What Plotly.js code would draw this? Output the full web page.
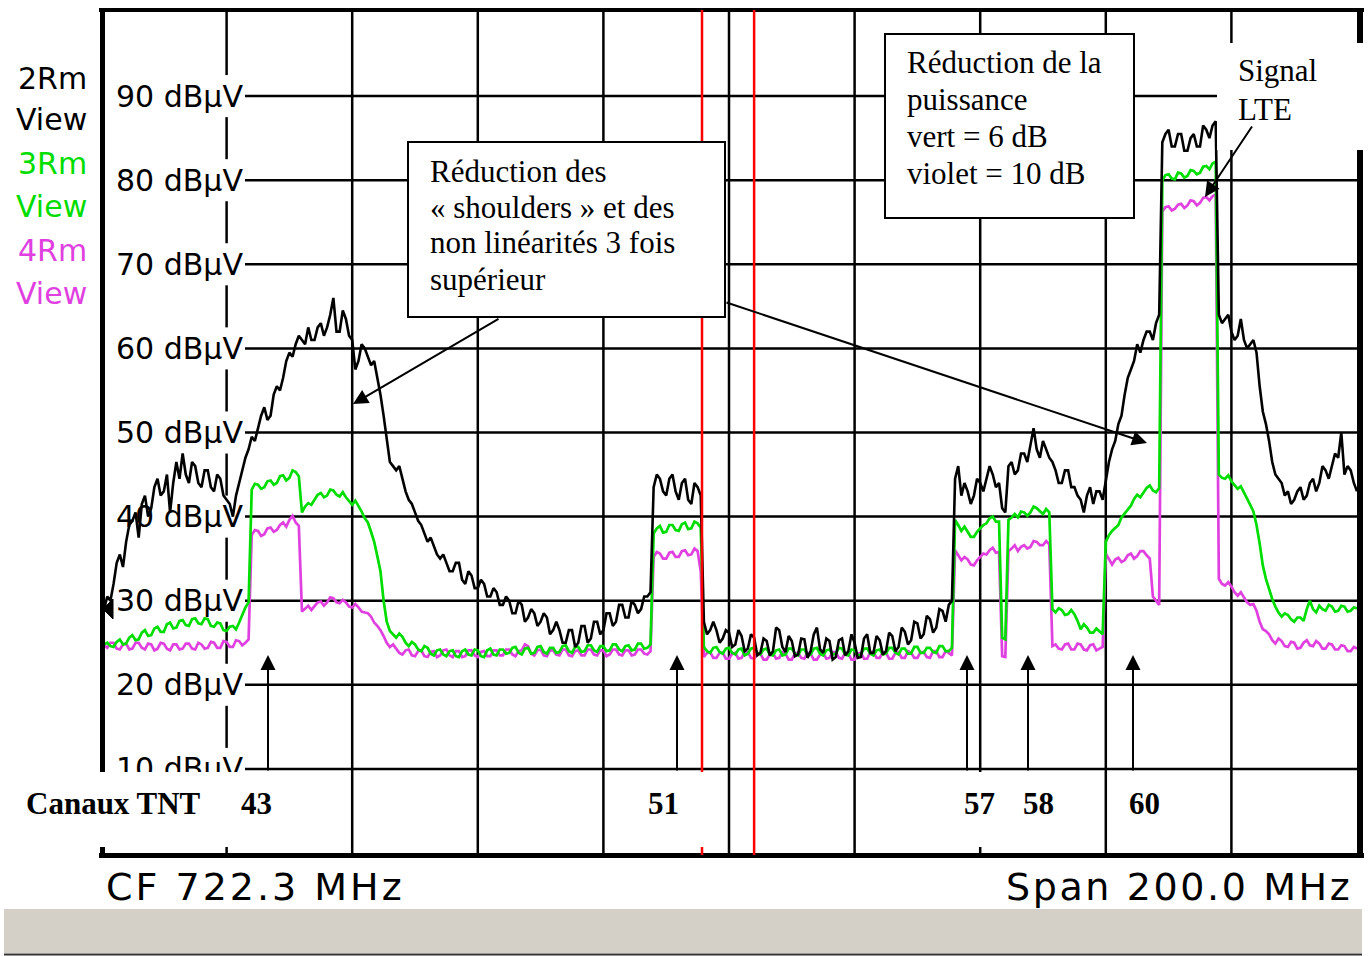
<!DOCTYPE html>
<html>
<head>
<meta charset="utf-8">
<script src="https://cdn.plot.ly/plotly-3.0.1.min.js"></script>
<style>
  html, body { margin: 0; padding: 0; background: #ffffff; }
  #chart { width: 1368px; height: 956px; }
</style>
</head>
<body>
<div id="chart"></div>
<script>
// ---------------- DATA ----------------
// Spectrum analyser sweep: CF 722.3 MHz, span 200 MHz, one sample every 0.5 MHz (401 points)
const freqStartMHz = 622.3;
const freqStepMHz = 0.5;

// 2Rm View (black) level, dBµV
const trace2Rm = [
  27,29, 30.5,30, 32,34.5, 35.5,34, 37,39, 39.5,40.5, 37.5,41.5, 42.5,40, 41,43.5, 44.5,42.5,
  43,45, 40.5,44, 46.5,44.5, 47.5,45, 44,46.5, 46,44, 43.5,45.5, 45.5,43.5, 43,45, 44.5,42.5,
  42,41.5, 40,42.5, 44,45.5, 47,48, 49.5,49, 50.5,52, 53,51.5, 52,54.5, 55.5,55, 56.5,58.5,
  59.5,59, 60.5,61.5, 61,60.5, 62.5,61, 61,62.5, 63,61.5, 62.5,64, 66,62, 62,64.5, 63.5,61.5,
  61,57.5, 58.5,60.5, 60,59, 58,58.5, 56.5,54.5, 52,49, 46.5,46, 45.5,46, 44.5,43, 42,41.5,
  40.5,39.5, 39,38, 37,37.5, 36.5,35.5, 35,35.5, 34.5,33.5, 33.5,34.5, 34.5,32.5, 32,33.5, 33,31.5,
  31.5,32.5, 32,30.5, 30.5,31.5, 31,29.5, 29.5,30.5, 30,28.5, 28.5,30, 29.5,27.5, 28,29, 28.5,27,
  27.5,28.5, 28,26, 26.5,27.5, 26.5,25, 25,26.5, 26.5,24.5, 25,27, 27,25, 25.5,27.5, 27.5,26,
  26.5,28.5, 28.5,27, 27.5,29.5, 29.5,28, 28,30, 29.5,28.5, 29,30.5, 30.5,31, 43.5,45, 44.5,43,
  42.5,44.5, 45,43, 42,44, 44.5,42, 41.5,44, 43.5,42.5, 27.5,26, 26.5,27.5, 26.5,25, 25.5,26.5,
  26.2,24.5, 24.8,26.5, 25.8,24, 24.3,26, 25.6,23.5, 23.8,25.5, 25.2,23.5, 24,26.8, 26.5,24.5, 23.9,25.8,
  25.2,23.4, 23.6,25.5, 25.4,23.2, 24,26, 26.8,24.2, 23.8,25.5, 25.2,23, 23.3,25.3, 25.5,23.5, 24,26,
  25,23.2, 23.3,25.5, 26,23.8, 23.8,25.8, 25.3,23.6, 24,26.2, 25.8,24, 24.5,26.8, 26.3,24.8, 25.3,27.5,
  27.3,25.5, 26,28.2, 27.8,26.2, 26.8,29, 28.8,27.5, 29.5,30, 44.5,46, 42.5,44, 43,41.5, 42.5,44.5,
  44,43, 44.5,46, 45,43.5, 44,41, 40.5,46, 46.5,45, 45.5,47.5, 47.5,46.5, 48.5,50.5, 48,47,
  49,48, 47,46.5, 45.5,44, 44,45.5, 45.5,43.5, 43.5,42.5, 42,40.5, 42.5,43.5, 41.5,43, 43,42,
  44.5,46.5, 48,49, 51,52, 54.5,56.5, 57.5,58.5, 60.5,59.5, 61,62, 62,61, 63,64, 84.5,85.5,
  86,84, 84,85.5, 85.5,83.5, 83.5,85, 85.5,84, 84,86.5, 86,85, 86.5,87, 64,63, 63.5,64,
  62,61, 61.5,63.5, 61,60, 60.5,61, 59.5,55.5, 52.5,51, 49,46.5, 45,44.5, 44,42.5, 43,41.5,
  42,43, 43.5,42, 42.5,44, 44.5,43, 44,46, 45.5,44.5, 46,47.5, 47,50, 45,46, 45.5,44,
  43
];

// 3Rm View (green) level, dBµV
const trace3Rm = [
  24.3,24.8, 25.0,24.6, 24.5,25.1, 25.4,24.8, 24.9,25.6, 25.9,25.3, 25.4,26.2, 26.5,25.8, 25.9,26.7, 26.9,26.3,
  26.3,27.2, 27.4,26.7, 26.8,27.6, 27.7,27.1, 27.0,27.8, 27.9,27.3, 27.2,27.9, 27.8,27.0, 26.9,27.4, 27.3,26.5,
  26.4,26.9, 27.0,26.6, 27.4,28.3, 29.2,29.8, 43.2,43.9, 43.8,43.3, 43.5,44.2, 44.3,43.8, 44.0,44.8, 44.9,44.3,
  44.6,45.5, 45.3,44.8, 40.5,41.2, 41.6,41.4, 42.0,42.6, 42.8,42.3, 42.5,43.2, 43.1,42.6, 42.4,42.9, 42.3,41.8,
  41.4,41.9, 41.3,40.6, 39.8,39.3, 38.2,37.0, 35.3,33.5, 30.0,27.5, 26.4,26.0, 25.6,26.1, 25.7,25.0, 24.6,25.1,
  24.8,24.2, 24.0,24.6, 24.4,23.7, 23.5,24.1, 24.2,23.6, 23.4,24.0, 24.1,23.4, 23.3,24.0, 24.2,23.6, 23.5,24.2,
  24.1,23.4, 23.3,24.1, 24.3,23.6, 23.5,24.2, 24.2,23.7, 23.8,24.4, 24.5,23.8, 23.6,24.3, 24.4,23.7, 23.8,24.5,
  24.6,23.9, 23.7,24.4, 24.4,23.8, 23.9,24.6, 24.7,24.0, 23.8,24.5, 24.5,23.9, 24.0,24.7, 24.7,24.1, 23.9,24.6,
  24.6,24.0, 24.1,24.8, 24.8,24.2, 24.0,24.6, 24.7,24.1, 24.2,24.9, 24.9,24.3, 24.4,24.8, 38.0,38.6, 38.9,38.1,
  38.2,39.0, 39.0,38.4, 38.3,39.1, 39.3,38.5, 38.6,39.4, 39.2,38.7, 24.5,24.0, 23.8,24.4, 24.5,23.9, 23.7,24.3,
  24.4,23.8, 23.6,24.2, 24.3,23.5, 23.7,24.3, 24.4,23.8, 23.6,24.2, 24.3,23.6, 23.5,24.1, 24.2,23.5, 23.6,24.3,
  24.3,23.7, 23.5,24.2, 24.2,23.5, 23.6,24.3, 24.4,23.7, 23.5,24.1, 24.2,23.6, 23.7,24.4, 24.3,23.6, 23.5,24.2,
  24.1,23.5, 23.6,24.3, 24.3,23.7, 23.5,24.1, 24.2,23.6, 23.7,24.4, 24.4,23.8, 23.6,24.3, 24.3,23.7, 23.7,24.5,
  24.5,23.8, 23.8,24.4, 24.4,23.9, 23.8,24.6, 24.6,24.0, 24.0,24.4, 39.6,39.0, 38.3,38.8, 38.2,37.6, 37.6,38.2,
  38.6,39.0, 39.2,39.8, 40.0,39.4, 39.4,25.6, 25.4,39.6, 39.9,40.3, 39.9,40.6, 40.5,40.1, 40.5,41.2, 41.0,40.6,
  40.3,40.9, 40.5,29.0, 28.6,29.1, 28.9,28.3, 28.4,28.9, 28.4,27.6, 26.6,27.2, 26.8,26.2, 26.2,26.7, 26.4,26.0,
  37.0,37.8, 38.3,38.6, 39.0,39.9, 40.4,40.8, 41.3,42.1, 42.6,42.3, 42.8,43.4, 43.7,43.1, 42.9,43.4, 80.0,80.6,
  80.7,80.2, 80.1,80.9, 80.8,80.3, 80.5,81.2, 81.1,80.7, 80.9,81.6, 81.7,81.3, 82.0,82.2, 45.0,44.6, 44.5,44.9,
  44.2,43.7, 43.3,43.6, 42.9,42.2, 41.4,40.6, 39.0,36.8, 34.2,32.6, 31.4,30.2, 29.3,28.6, 28.1,28.5, 28.3,27.8,
  27.5,28.0, 28.0,27.6, 29.0,30.0, 29.0,28.6, 29.4,29.0, 28.8,29.5, 29.3,28.7, 28.8,29.4, 29.3,28.7, 28.8,29.2,
  29.1
];

// 4Rm View (violet) level, dBµV
const trace4Rm = [
  25.2,24.7, 24.4,25.0, 25.0,24.3, 24.2,24.8, 24.9,24.2, 24.3,25.0, 25.0,24.4, 24.2,24.9, 24.8,24.1, 24.3,25.0,
  24.9,24.3, 24.1,24.8, 24.8,24.2, 24.3,24.9, 24.9,24.3, 24.2,25.0, 24.8,24.3, 24.4,25.1, 25.0,24.4, 24.4,25.2,
  25.1,24.5, 24.5,25.3, 25.2,24.7, 25.0,25.4, 37.8,38.4, 38.3,37.7, 37.9,38.6, 38.7,38.2, 38.4,39.0, 39.3,38.8,
  39.6,40.1, 39.3,38.9, 28.7,29.1, 29.4,28.9, 29.3,29.8, 29.9,29.4, 29.8,30.4, 30.3,29.8, 29.7,30.1, 29.8,29.3,
  29.2,29.6, 29.2,28.7, 28.6,28.5, 28.1,27.4, 27.0,26.5, 25.8,25.0, 24.5,24.8, 24.3,23.8, 23.6,24.1, 24.2,23.5,
  23.4,24.0, 24.1,23.4, 23.3,23.9, 24.0,23.3, 23.5,24.1, 24.2,23.5, 23.3,24.0, 24.0,23.3, 23.4,24.1, 24.1,23.5,
  23.3,23.9, 24.0,23.4, 23.4,24.1, 24.1,23.5, 23.5,24.2, 24.2,23.6, 23.4,24.0, 24.1,24.8, 24.6,23.7, 23.5,24.1,
  24.2,23.5, 23.4,24.1, 24.1,23.6, 23.5,24.2, 24.2,23.5, 23.4,24.0, 24.1,23.5, 23.5,24.2, 24.2,23.6, 23.5,24.1,
  24.1,23.4, 23.6,24.2, 24.2,23.6, 23.5,24.1, 24.1,23.5, 23.6,24.2, 24.2,23.7, 23.6,24.0, 35.2,35.8, 35.6,35.0,
  35.0,35.7, 35.8,35.2, 35.2,35.9, 36.0,35.4, 35.5,36.2, 35.9,33.5, 23.3,23.8, 23.9,23.2, 23.2,23.8, 23.8,23.1,
  23.1,23.7, 23.8,23.1, 23.2,23.9, 23.9,23.2, 23.1,23.8, 23.7,23.0, 23.0,23.6, 23.8,23.1, 23.2,23.9, 23.7,23.0,
  23.0,23.7, 23.8,23.2, 23.1,23.8, 23.7,23.0, 23.0,23.6, 23.8,23.1, 23.2,23.9, 23.9,23.2, 23.1,23.8, 23.7,23.0,
  23.0,23.7, 23.8,23.1, 23.1,23.9, 23.9,23.2, 23.2,23.9, 23.8,23.1, 23.1,23.8, 23.9,23.2, 23.2,24.0, 23.8,23.2,
  23.2,23.9, 23.9,23.3, 23.2,24.0, 24.0,23.3, 23.3,24.0, 23.8,23.5, 36.0,35.4, 34.8,35.2, 34.9,34.3, 34.2,34.8,
  35.2,35.6, 35.5,36.0, 36.3,35.7, 35.8,23.4, 23.3,35.9, 36.2,36.6, 35.9,36.4, 36.6,36.2, 36.4,37.1, 37.0,36.6,
  36.6,37.1, 36.7,24.6, 24.8,24.3, 24.2,24.8, 24.9,24.2, 24.2,24.9, 24.8,24.2, 24.1,24.7, 24.8,24.1, 24.3,24.5,
  35.6,34.9, 34.3,34.9, 35.1,34.6, 34.8,35.4, 35.6,35.0, 35.3,35.9, 35.9,35.4, 35.0,30.5, 30.0,29.5, 76.3,76.8,
  76.9,76.4, 76.6,77.1, 77.2,76.7, 77.0,77.6, 77.5,77.0, 77.3,77.9, 78.0,77.6, 78.1,78.3, 32.6,32.0, 31.8,32.2,
  31.7,31.0, 30.6,31.0, 30.4,29.8, 29.5,29.6, 28.8,27.5, 26.6,26.4, 26.0,25.3, 24.9,25.5, 25.2,24.6, 24.5,25.1,
  25.0,24.3, 24.4,25.0, 25.3,24.7, 24.6,25.2, 24.9,24.3, 24.3,24.9, 24.8,24.2, 24.2,24.7, 24.6,24.0, 24.0,24.5,
  24.3
];

const yTickVals = [10, 20, 30, 40, 50, 60, 70, 80, 90];
const yTickText = ['10 dBµV', '20 dBµV', '30 dBµV', '40 dBµV', '50 dBµV', '60 dBµV', '70 dBµV', '80 dBµV', '90 dBµV'];
const gridFreqs = [642.3, 662.3, 682.3, 702.3, 722.3, 742.3, 762.3, 782.3, 802.3];
const markerFreqs = [718.0, 726.3];

const traceNames = ['4Rm View', '3Rm View', '2Rm View'];
const channelLabels = ['43', '51', '57', '58', '60'];
const box1Lines = ['Réduction des', '« shoulders » et des', 'non linéarités 3 fois', 'supérieur'];
const box2Lines = ['Réduction de la', 'puissance', 'vert = 6 dB', 'violet = 10 dB'];
const lteLines = ['Signal', 'LTE'];

// ---------------- STYLE / LAYOUT ----------------
const GREEN = '#00dd00';
const VIOLET = '#e040e0';
const BLACK = '#000000';

const W = 1368, H = 956;
const L = 101, R = 1357, T = 12, B = 853;
const X = px => (px - L) / (R - L);       // pixel -> paper x
const Y = py => (B - py) / (B - T);       // pixel -> paper y

const freqs = trace2Rm.map((_, i) => +(freqStartMHz + i * freqStepMHz).toFixed(2));

const data = [
  { x: freqs, y: trace4Rm, name: traceNames[0], type: 'scatter', mode: 'lines',
    line: { color: VIOLET, width: 2.7 }, hoverinfo: 'skip' },
  { x: freqs, y: trace3Rm, name: traceNames[1], type: 'scatter', mode: 'lines',
    line: { color: GREEN, width: 2.7 }, hoverinfo: 'skip' },
  { x: freqs, y: trace2Rm, name: traceNames[2], type: 'scatter', mode: 'lines',
    line: { color: BLACK, width: 2.6 }, hoverinfo: 'skip' }
];

const shapes = [];
const gridW = 2.5;
// horizontal grid lines (start right of the level labels)
yTickVals.forEach(v => shapes.push({ type: 'line', layer: 'below', xref: 'paper', yref: 'y',
  x0: X(245), x1: 1, y0: v, y1: v, line: { color: BLACK, width: gridW } }));
// vertical grid lines
gridFreqs.forEach((f, k) => {
  if (k === 0) {
    // first division line is interrupted by the level labels
    let top = 100.5;
    yTickVals.slice().reverse().forEach(v => {
      shapes.push({ type: 'line', layer: 'below', xref: 'x', yref: 'y', x0: f, x1: f,
        y0: top, y1: v + 2.5, line: { color: BLACK, width: gridW } });
      top = v - 2.5;
    });
    shapes.push({ type: 'line', layer: 'below', xref: 'x', yref: 'y', x0: f, x1: f,
      y0: top, y1: -0.5, line: { color: BLACK, width: gridW } });
  } else {
    shapes.push({ type: 'line', layer: 'below', xref: 'x', yref: 'paper', x0: f, x1: f,
      y0: Y(855), y1: Y(10), line: { color: BLACK, width: gridW } });
  }
});
// frame
shapes.push({ type: 'line', layer: 'above', xref: 'paper', yref: 'paper', x0: X(99), x1: X(1364), y0: Y(10), y1: Y(10), line: { color: BLACK, width: 4 } });
shapes.push({ type: 'line', layer: 'above', xref: 'paper', yref: 'paper', x0: X(99), x1: X(1364), y0: Y(855.5), y1: Y(855.5), line: { color: BLACK, width: 5 } });
shapes.push({ type: 'line', layer: 'above', xref: 'paper', yref: 'paper', x0: X(102.5), x1: X(102.5), y0: Y(8), y1: Y(858), line: { color: BLACK, width: 5 } });
shapes.push({ type: 'line', layer: 'above', xref: 'paper', yref: 'paper', x0: X(1360), x1: X(1360), y0: Y(8), y1: Y(858), line: { color: BLACK, width: 6 } });
// red marker lines
markerFreqs.forEach(f => shapes.push({ type: 'line', layer: 'above', xref: 'x', yref: 'paper',
  x0: f, x1: f, y0: Y(855), y1: Y(10), line: { color: '#ff0000', width: 2.5 } }));
// reference level marker
shapes.push({ type: 'path', layer: 'above', xref: 'paper', yref: 'paper',
  path: `M ${X(103)} ${Y(609)} L ${X(113)} ${Y(599)} L ${X(113)} ${Y(619)} Z`,
  fillcolor: BLACK, line: { color: BLACK, width: 1 } });
// white label strips at the bottom of the screen
[[-5, 300], [640, 716], [952, 1066]].forEach(([a, b]) => shapes.push({ type: 'rect', layer: 'above',
  xref: 'paper', yref: 'paper', x0: X(a), x1: X(b), y0: Y(847), y1: Y(772),
  fillcolor: '#ffffff', line: { width: 0 } }));
// annotation boxes
shapes.push({ type: 'rect', layer: 'above', xref: 'paper', yref: 'paper', x0: X(408), x1: X(725), y0: Y(317), y1: Y(142),
  fillcolor: '#ffffff', line: { color: BLACK, width: 2 } });
shapes.push({ type: 'rect', layer: 'above', xref: 'paper', yref: 'paper', x0: X(885), x1: X(1134), y0: Y(218), y1: Y(34),
  fillcolor: '#ffffff', line: { color: BLACK, width: 2 } });
shapes.push({ type: 'rect', layer: 'above', xref: 'paper', yref: 'paper', x0: X(1217), x1: X(1366), y0: Y(150), y1: Y(43),
  fillcolor: '#ffffff', line: { width: 0 } });
// grey status bar
shapes.push({ type: 'rect', layer: 'above', xref: 'paper', yref: 'paper', x0: X(4), x1: X(1362), y0: Y(953), y1: Y(909),
  fillcolor: '#d4d0c8', line: { width: 0 } });
shapes.push({ type: 'line', layer: 'above', xref: 'paper', yref: 'paper', x0: X(4), x1: X(1362), y0: Y(954.5), y1: Y(954.5),
  line: { color: '#333333', width: 2 } });

const annotations = [];
const SANS = 'DejaVu Sans, Verdana, sans-serif';
const SERIF = 'Liberation Serif, Times New Roman, serif';
function txt(text, px, py, opts) {
  annotations.push(Object.assign({ text: text, xref: 'paper', yref: 'paper', x: X(px), y: Y(py),
    showarrow: false, xanchor: 'left', yanchor: 'middle', borderpad: 0 }, opts));
}
// trace legend labels (left)
const legendCols = [BLACK, GREEN, VIOLET];
const legendRm = ['2Rm', '3Rm', '4Rm'];
[[79, 120], [164, 206], [251, 293]].forEach(([a, b], k) => {
  txt(legendRm[k], 88, a, { xanchor: 'right', font: { family: SANS, size: 30, color: legendCols[k] } });
  txt('View', 88, b, { xanchor: 'right', font: { family: SANS, size: 30, color: legendCols[k] } });
});
// status text
txt('<span style="letter-spacing:3px">CF 722.3 MHz</span>', 105, 887, { font: { family: SANS, size: 38, color: BLACK } });
txt('<span style="letter-spacing:2.6px">Span 200.0 MHz</span>', 1353, 887, { xanchor: 'right', font: { family: SANS, size: 38, color: BLACK } });
// channel labels
txt('<b>Canaux TNT</b>', 25, 803, { font: { family: SERIF, size: 31, color: BLACK } });
[256, 663, 979, 1038, 1144].forEach((px, k) =>
  txt('<b>' + channelLabels[k] + '</b>', px, 803, { xanchor: 'center', font: { family: SERIF, size: 31, color: BLACK } }));
// box texts
[171, 207, 243, 279].forEach((py, k) => txt(box1Lines[k], 429, py, { font: { family: SERIF, size: 31, color: BLACK } }));
[63, 99.5, 136, 173].forEach((py, k) => txt(box2Lines[k], 906, py, { font: { family: SERIF, size: 31, color: BLACK } }));
[71, 109.5].forEach((py, k) => txt(lteLines[k], 1237, py, { font: { family: SERIF, size: 31, color: BLACK } }));
// arrows
function arrow(tipX, tipY, tailX, tailY) {
  annotations.push({ text: '', xref: 'paper', yref: 'paper', x: X(tipX), y: Y(tipY),
    ax: tailX - tipX, ay: tailY - tipY, axref: 'pixel', ayref: 'pixel',
    showarrow: true, arrowhead: 2, arrowsize: 1.5, arrowwidth: 2, arrowcolor: BLACK, standoff: 0, startstandoff: 0 });
}
arrow(353, 404, 500, 318);
arrow(1147, 443, 725, 302);
arrow(1205, 197, 1253, 125);
[268, 677, 967, 1028, 1133].forEach(px => arrow(px, 655, px, 772));

const layout = {
  width: W, height: H,
  margin: { l: L, r: W - R, t: T, b: H - B, pad: 0 },
  paper_bgcolor: '#ffffff', plot_bgcolor: '#ffffff',
  showlegend: false, hovermode: false,
  xaxis: { range: [freqStartMHz, freqStartMHz + 200], showgrid: false, zeroline: false,
    showticklabels: false, ticks: '', showline: false, fixedrange: true },
  yaxis: { range: [0, 100], showgrid: false, zeroline: false, showline: false, ticks: '',
    tickmode: 'array', tickvals: yTickVals, ticktext: yTickText,
    ticklabelposition: 'inside', ticklabelstandoff: 12, layer: 'below traces',
    tickfont: { family: SANS, size: 30, color: BLACK }, fixedrange: true },
  shapes: shapes,
  annotations: annotations
};

Plotly.newPlot('chart', data, layout, { displayModeBar: false, staticPlot: true });
</script>
</body>
</html>
